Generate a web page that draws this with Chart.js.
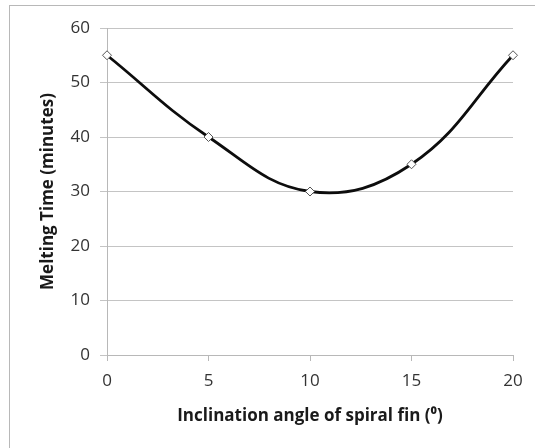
<!DOCTYPE html>
<html>
<head>
<meta charset="utf-8">
<script src="https://cdn.jsdelivr.net/npm/chart.js@4"></script>
<style>
    html, body { margin: 0; padding: 0; background: #fff; }
    #wrap { position: absolute; left: 0; top: 0; width: 535px; height: 448px; }
    #frame { position: absolute; left: 9px; top: 5px; width: 540px; height: 460px;
             border-left: 1px solid #b8b8b8; border-top: 1px solid #b8b8b8; }
</style>
</head>
<body>
<div id="wrap">
    <div id="frame"></div>
    <canvas id="meltChart" width="535" height="448"></canvas>
</div>
<script>
// angles of the spiral fin (degrees) and the melting time for each
const angulos = [0, 5, 10, 15, 20];
const tiempos = [55, 40, 30, 35, 55];
const yTicks = [0, 10, 20, 30, 40, 50, 60];
const xTicks = [0, 5, 10, 15, 20];

document.addEventListener('DOMContentLoaded', function() {
    dibujarGrafico();
});

function dibujarGrafico() {
    const ctx = document.getElementById('meltChart').getContext('2d');
    const puntos = angulos.map((a, i) => ({ x: a, y: tiempos[i] }));

    new Chart(ctx, {
        type: 'line',
        data: {
            datasets: [{
                data: puntos,
                clip: false,
                borderColor: '#0d0d0d',
                borderWidth: 2.8,
                tension: 0.4,
                pointStyle: 'rectRot',
                pointRadius: 4.5,
                pointBackgroundColor: '#fff',
                pointBorderColor: '#555',
                pointBorderWidth: 1
            }]
        },
        options: {
            responsive: false,
            animation: false,
            layout: { padding: { left: 0, right: 22, top: 28, bottom: 0 } },
            plugins: { legend: { display: false }, tooltip: { enabled: false } },
            scales: {
                x: {
                    type: 'linear',
                    min: 0,
                    max: 20,
                    afterBuildTicks: s => { s.ticks = xTicks.map(v => ({ value: v })); },
                    afterFit: s => { s.height = 93; },
                    grid: { drawOnChartArea: false, color: '#b8b8b8', tickLength: 6 },
                    border: { color: '#b8b8b8' },
                    ticks: { color: '#333', padding: 10, font: { family: 'Open Sans', size: 17 } },
                    title: {
                        display: true,
                        text: 'Inclination angle of spiral fin (\u2070)',
                        color: '#1a1a1a',
                        font: { family: 'Open Sans', size: 17, weight: 'bold' },
                        padding: { top: 0, bottom: 22 }
                    }
                },
                y: {
                    min: 0,
                    max: 60,
                    afterBuildTicks: s => { s.ticks = yTicks.map(v => ({ value: v })); },
                    afterFit: s => { s.width = 107; },
                    grid: { color: '#c4c4c4', tickLength: 7 },
                    border: { color: '#b8b8b8' },
                    ticks: { color: '#333', padding: 10, font: { family: 'Open Sans', size: 17 } },
                    title: {
                        display: true,
                        text: 'Melting Time (minutes)',
                        color: '#1a1a1a',
                        font: { family: 'Open Sans', size: 17, weight: 'bold' },
                        padding: { top: 38, bottom: 0 }
                    }
                }
            }
        }
    });
}
</script>
</body>
</html>
